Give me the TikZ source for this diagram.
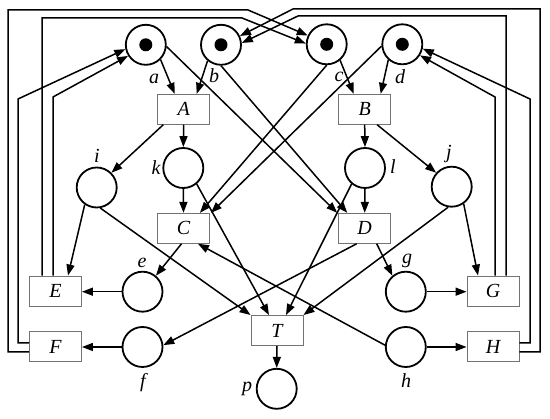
\documentclass[tikz,border=0pt]{standalone}
\usepackage{fontspec}
\setmainfont{Liberation Serif}
\usetikzlibrary{arrows.meta,calc}
\begin{document}
\begin{tikzpicture}[x=1pt,y=-1pt,
 place/.style={circle,draw,line width=1.8pt,minimum size=40pt,inner sep=0pt},
 trans/.style={rectangle,draw=black!55,fill=white,line width=0.9pt,minimum width=52pt,minimum height=30pt,inner sep=0pt,font=\fontsize{20}{22}\selectfont\itshape},
 lbl/.style={font=\fontsize{20}{22}\selectfont\itshape,inner sep=0pt,anchor=base},
 arc/.style={line width=1.5pt,line join=miter,-{Triangle[length=11pt,width=8pt]}},
 tok/.style={circle,fill,minimum size=13pt,inner sep=0pt}]
\useasboundingbox (0,0) rectangle (550,419);
% transitions
\node[trans] (A) at (183.7,109.3) {A};
\node[trans] (B) at (364.7,109.3) {B};
\node[trans] (C) at (183.5,228.3) {C};
\node[trans] (D) at (364.7,228.3) {D};
\node[trans] (E) at (55.5,291) {E};
\node[trans] (F) at (55.5,346.7) {F};
\node[trans] (G) at (493,291) {G};
\node[trans] (H) at (493,346.7) {H};
\node[trans] (T) at (277,330.5) {T};
% places
\node[place] (a) at (145.8,44.8) {};
\node[place] (b) at (221,44.8) {};
\node[place] (c) at (326.7,44.3) {};
\node[place] (d) at (402.3,44.3) {};
\node[place] (i) at (96.7,187.5) {};
\node[place] (k) at (183.3,168) {};
\node[place] (l) at (365,168) {};
\node[place] (j) at (451.7,186.7) {};
\node[place] (e) at (142.5,291.7) {};
\node[place] (f) at (142.5,347) {};
\node[place] (g) at (405.8,291.7) {};
\node[place] (h) at (405.8,347) {};
\node[place] (p) at (276.7,388.8) {};
\node[tok] (ta) at (a) {};
\node[tok] (tb) at (b) {};
\node[tok] (tc) at (c) {};
\node[tok] (td) at (d) {};
% labels
\node[lbl] (la) at (154,84) {a};
\node[lbl] (lb) at (214,83) {b};
\node[lbl] (lc) at (339,82) {c};
\node[lbl] (ld) at (400,84) {d};
\node[lbl] (li) at (97,163) {i};
\node[lbl] (lk) at (156,175) {k};
\node[lbl] (ll) at (393,174) {l};
\node[lbl] (lj) at (449,159) {j};
\node[lbl] (le) at (142,268) {e};
\node[lbl] (lg) at (407,264) {g};
\node[lbl] (lf) at (143,387.5) {f};
\node[lbl] (lh) at (406,388) {h};
\node[lbl] (lp) at (247,392) {p};
% arcs
\draw[arc] (a.315) -- ($(A.north)+(-9,0)$);
\draw[arc] (b.230) -- ($(A.north)+(13,0)$);
\draw[arc] (c.310) -- ($(B.north)+(-11,0)$);
\draw[arc] (d.228) -- ($(B.north)+(16,0)$);
\draw[arc] (a.355) -- ($(D.north west)+(-1,0)$);
\draw[arc] (b.south) -- ($(D.north west)+(9,0)$);
\draw[arc] (c.south) -- ($(C.north east)+(-10,0)$);
\draw[arc] (d.185) -- ($(C.north east)+(1,0)$);
\draw[arc] ($(A.south west)+(6,0)$) -- (i.45);
\draw[arc] (A.south) -- (k.north);
\draw[arc] (B.south) -- (l.north);
\draw[arc] ($(B.south east)+(-14,0)$) -- (j.138);
\draw[arc] (k.south) -- (C.north);
\draw[arc] (l.south) -- (D.north);
\draw[arc] (k.310) -- ($(T.north)+(-8,0)$);
\draw[arc] (l.230) -- ($(T.north)+(9,0)$);
\draw[arc] (i.235) -- ($(E.north)+(12.5,0)$);
\draw[arc] (i.280) -- (T.north west);
\draw[arc] (j.305) -- ($(G.north)+(-15,0)$);
\draw[arc] (j.260) -- (T.north east);
\draw[arc] ($(C.south)+(-2,0)$) -- (e.50);
\draw[arc] ($(D.south)+(12,0)$) -- (g.130);
\draw[arc] ($(D.south)+(-8,0)$) -- (f.5);
\draw[arc] (h.175) -- ($(C.south east)+(-12,0)$);
\draw[arc] (e.west) -- (E.east |- e.west);
\draw[arc] (f.west) -- (F.east |- f.west);
\draw[arc] (g.east) -- (G.west |- g.east);
\draw[arc] (h.east) -- (H.west |- h.east);
\draw[arc] (T.south) -- (p.north);
% feedback
\coordinate (f1) at (18,343); \coordinate (f1t) at (18,99);
\draw[arc] (F.west |- f1) -- (f1) -- (f1t) -- (a.192);
\coordinate (f2) at (8,352); \coordinate (f2t) at (8,10); \coordinate (f2r) at (248,10);
\draw[arc] (F.west |- f2) -- (f2) -- (f2t) -- (f2r) -- (c.155);
\coordinate (e1) at (42,18); \coordinate (e1r) at (242,18);
\draw[arc] (E.north -| e1) -- (e1) -- (e1r) -- (c.178);
\coordinate (e2) at (53,97);
\draw[arc] (E.north -| e2) -- (e2) -- (a.212);
\coordinate (g1) at (495,97);
\draw[arc] (G.north -| g1) -- (g1) -- (d.328);
\coordinate (g2) at (506,16); \coordinate (g2l) at (298,16);
\draw[arc] (G.north -| g2) -- (g2) -- (g2l) -- (b.5);
\coordinate (h1) at (530,343); \coordinate (h1t) at (530,99);
\draw[arc] (H.east |- h1) -- (h1) -- (h1t) -- (d.348);
\coordinate (h2) at (540,352); \coordinate (h2t) at (540,9); \coordinate (h2l) at (293,9);
\draw[arc] (H.east |- h2) -- (h2) -- (h2t) -- (h2l) -- (b.25);
\end{tikzpicture}
\end{document}
